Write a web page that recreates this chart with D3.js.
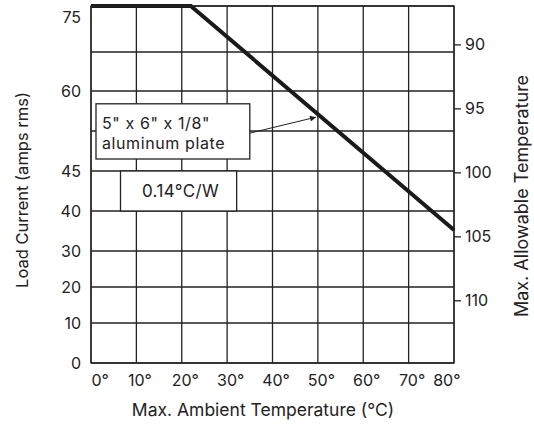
<!DOCTYPE html>
<html>
<head>
<meta charset="utf-8">
<script src="https://cdn.jsdelivr.net/npm/d3@7"></script>
<style>
  body { margin: 0; background: #fff; }
  text { fill: #222; font-family: Inter, "Liberation Sans", Arial, sans-serif; }
</style>
</head>
<body>
<svg id="chart"></svg>
<script>
// data
var curveTemp = [0, 22, 80];          // max. ambient temperature (°C)
var curveLoad = [75, 75, 35.25];      // load current (amps rms)

var xTicks = [0, 10, 20, 30, 40, 50, 60, 70, 80];
var yGridLevels = [0, 10, 20, 30, 40, 45, 52.5, 60, 67.5, 75];
var yTickLabels = [0, 10, 20, 30, 40, 45, 60, 75];
var rightTicks = [90, 95, 100, 105, 110];

var plateLabel = ['5" x 6" x 1/8"', "aluminum plate"];
var resistLabel = "0.14°C/W";

var width = 534,
    height = 424;

var svg = d3.select("#chart")
    .attr("width", width)
    .attr("height", height);

var margin = {top: 6, right: 80, bottom: 61, left: 91},
    plotW = width - margin.left - margin.right,
    plotH = height - margin.top - margin.bottom;

var x = d3.scaleLinear().domain([0, 80]).range([margin.left, margin.left + plotW]);

// the grid rows of the original are not evenly drawn, so the left scale is piecewise
var yRows = [363, 323, 287, 251, 211, 171, 131, 91, 52, 6];
var y = d3.scaleLinear().domain(yGridLevels).range(yRows);

var yr = d3.scaleLinear().domain([87, 114.9]).range([margin.top, margin.top + plotH]);

var ink = "#222";

// grid
var grid = svg.append("g");
grid.selectAll(".vline")
    .data(xTicks)
    .enter().append("line")
    .attr("x1", function(d) { return x(d); })
    .attr("x2", function(d) { return x(d); })
    .attr("y1", y(0))
    .attr("y2", y(75))
    .attr("stroke", ink)
    .attr("stroke-width", 1.3);

grid.selectAll(".hline")
    .data(yGridLevels)
    .enter().append("line")
    .attr("x1", x(0))
    .attr("x2", x(80))
    .attr("y1", function(d) { return y(d); })
    .attr("y2", function(d) { return y(d); })
    .attr("stroke", ink)
    .attr("stroke-width", 1.3);

// axes
var xAxis = svg.append("g")
    .attr("transform", "translate(0," + y(0) + ")")
    .call(d3.axisBottom(x).tickValues(xTicks).tickSize(0).tickPadding(12)
        .tickFormat(function(d) { return d + "°"; }));

xAxis.selectAll("text")
    .attr("dx", 3)
    .filter(function(d) { return d === 0 || d === 80; })
    .attr("text-anchor", function(d) { return d === 0 ? "start" : "end"; })
    .attr("dx", function(d) { return d === 0 ? 0 : 6; });

var yAxis = svg.append("g")
    .attr("transform", "translate(" + margin.left + ",0)")
    .call(d3.axisLeft(y).tickValues(yTickLabels).tickSize(0).tickPadding(10));

// the top label sits under the frame in the original
yAxis.selectAll(".tick").filter(function(d) { return d === 75; })
    .select("text").attr("dy", "1.05em");

var rAxis = svg.append("g")
    .attr("transform", "translate(" + (margin.left + plotW) + ",0)")
    .call(d3.axisRight(yr).tickValues(rightTicks).tickSize(7).tickPadding(4));

[xAxis, yAxis, rAxis].forEach(function(a) {
    a.attr("font-family", null).attr("font-size", null);
    a.select(".domain").remove();
    a.selectAll("text").style("font-size", "16px").attr("fill", ink);
    a.selectAll(".tick line").attr("stroke", ink).attr("stroke-width", 1.3);
});

// axis titles
svg.append("text")
    .attr("x", 263)
    .attr("y", 416)
    .attr("text-anchor", "middle")
    .style("font-size", "17.5px")
    .text("Max. Ambient Temperature (°C)");

svg.append("text")
    .attr("transform", "translate(28," + 190 + ") rotate(-90)")
    .attr("text-anchor", "middle")
    .style("font-size", "16.5px")
    .text("Load Current (amps rms)");

svg.append("text")
    .attr("transform", "translate(528," + 196 + ") rotate(-90)")
    .attr("text-anchor", "middle")
    .style("font-size", "18px")
    .text("Max. Allowable Temperature");

// derating curve
var line = d3.line()
    .x(function(d) { return x(d[0]); })
    .y(function(d) { return y(d[1]); });

svg.append("path")
    .datum(d3.zip(curveTemp, curveLoad))
    .attr("d", line)
    .attr("fill", "none")
    .attr("stroke", "#1a1a1a")
    .attr("stroke-width", 4)
    .attr("stroke-linejoin", "miter");

// frame
svg.append("rect")
    .attr("x", x(0))
    .attr("y", y(75))
    .attr("width", x(80) - x(0))
    .attr("height", y(0) - y(75))
    .attr("fill", "none")
    .attr("stroke", ink)
    .attr("stroke-width", 1.3);

// annotation: plate box with arrow to the curve
svg.append("defs").append("marker")
    .attr("id", "arrow")
    .attr("viewBox", "0 0 10 10")
    .attr("refX", 10)
    .attr("refY", 5)
    .attr("markerWidth", 9)
    .attr("markerHeight", 6)
    .attr("markerUnits", "userSpaceOnUse")
    .attr("orient", "auto")
    .append("path")
    .attr("d", "M0,0L10,5L0,10z")
    .attr("fill", ink);

svg.append("line")
    .attr("x1", x(35))
    .attr("y1", y(52.1))
    .attr("x2", x(49.6))
    .attr("y2", y(55.1))
    .attr("stroke", ink)
    .attr("stroke-width", 1)
    .attr("marker-end", "url(#arrow)");

svg.append("rect")
    .attr("x", x(1.1))
    .attr("y", y(57.6))
    .attr("width", x(35) - x(1.1))
    .attr("height", y(47.25) - y(57.6))
    .attr("fill", "#fff")
    .attr("stroke", ink)
    .attr("stroke-width", 1.3);

svg.selectAll(".plate")
    .data(plateLabel)
    .enter().append("text")
    .attr("class", "plate")
    .attr("x", x(1.1) + 6)
    .attr("y", function(d, i) { return 129 + i * 19.5; })
    .style("font-size", "16px")
    .style("letter-spacing", "0.6px")
    .text(function(d) { return d; });

svg.append("rect")
    .attr("x", x(6.5))
    .attr("y", y(45))
    .attr("width", x(32.1) - x(6.5))
    .attr("height", y(40) - y(45))
    .attr("fill", "#fff")
    .attr("stroke", ink)
    .attr("stroke-width", 1.3);

svg.append("text")
    .attr("x", (x(6.5) + x(32.1)) / 2 + 2)
    .attr("y", (y(45) + y(40)) / 2)
    .attr("dy", "0.35em")
    .attr("text-anchor", "middle")
    .style("font-size", "17px")
    .style("letter-spacing", "0.4px")
    .text(resistLabel);
</script>
</body>
</html>
